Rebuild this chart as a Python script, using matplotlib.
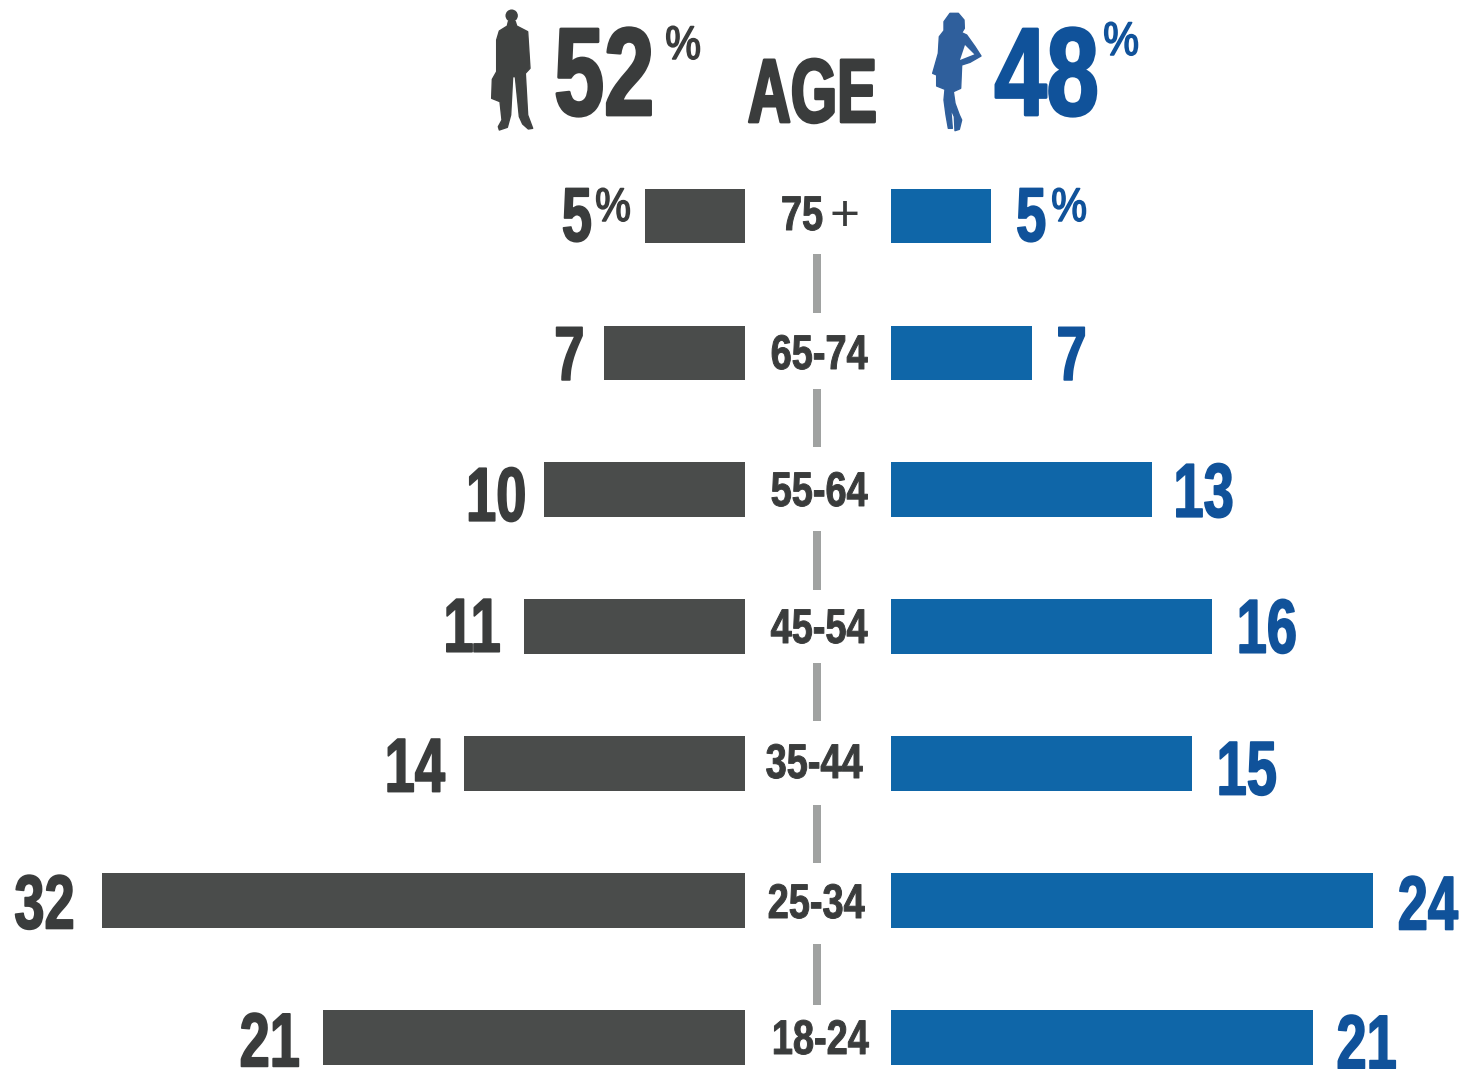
import matplotlib
matplotlib.use("Agg")
import matplotlib.pyplot as plt
import matplotlib.patheffects as pe
from matplotlib.patches import Circle, Polygon, Rectangle
from matplotlib.transforms import Affine2D

ages = ["75+", "65-74", "55-64", "45-54", "35-44", "25-34", "18-24"]
men = [5, 7, 10, 11, 14, 32, 21]
women = [5, 7, 13, 16, 15, 24, 21]
men_total = 52
women_total = 48

GRAY = "#4a4c4b"
BLUE = "#0f66a8"
DARK = "#3a3c3c"
NAVY = "#10529a"
W, H = 1464, 1069
PX_PER_UNIT = 20.08
ROW = 136.9
FONT = ["Liberation Sans", "DejaVu Sans"]


class Squeeze(pe.AbstractPathEffect):
    """Narrow a text horizontally and thicken it, no condensed font is installed."""

    def __init__(self, sx, lw, color, anchor="left"):
        super().__init__()
        self.sx, self.lw, self.color, self.anchor = sx, lw, color, anchor

    def draw_path(self, renderer, gc, tpath, affine, rgbFace=None):
        box = affine.transform_path(tpath).get_extents()
        x0 = {"left": box.x0, "right": box.x1, "center": (box.x0 + box.x1) / 2}[self.anchor]
        squeezed = affine + Affine2D().translate(-x0, 0).scale(self.sx, 1).translate(x0, 0)
        gc0 = renderer.new_gc()
        gc0.copy_properties(gc)
        gc0.set_linewidth(self.lw)
        gc0.set_foreground(self.color)
        renderer.draw_path(gc0, tpath, squeezed, rgbFace)
        gc0.restore()


def heavy(sx, lw, color, anchor="left"):
    return [Squeeze(sx, lw, color, anchor)]


fig = plt.figure(figsize=(W / 100, H / 100), dpi=100, facecolor="white")
ax_l = fig.add_axes([0, 0, 745 / W, 1])
ax_r = fig.add_axes([891 / W, 0, (W - 891) / W, 1])
overlay = fig.add_axes([0, 0, 1, 1])

ax_l.set_xlim(745 / PX_PER_UNIT, 0)
ax_r.set_xlim(0, (W - 891) / PX_PER_UNIT)
for ax in (ax_l, ax_r):
    ax.set_ylim((H - 216) / ROW, -216 / ROW)
    ax.axis("off")
overlay.set_xlim(0, W)
overlay.set_ylim(H, 0)
overlay.axis("off")
overlay.patch.set_alpha(0)

rows = list(range(len(ages)))
ax_l.barh(rows, men, height=0.4, color=GRAY)
ax_r.barh(rows, women, height=0.4, color=BLUE)

# hand placed, the labels in the picture are not quite regular
men_gap = [52, 19, 17, 23, 19, 27, 23]
men_drop = [25, 27, 31, 25, 28, 28, 29]
women_gap = [24, 24, 20, 23, 23, 24, 23]
women_drop = [25, 27, 27, 26, 31, 29, 31]

for i in rows:
    ax_l.annotate(str(men[i]), (men[i], i), xytext=(-men_gap[i], -men_drop[i]), textcoords="offset pixels",
                  ha="right", va="baseline", fontsize=55, fontweight="bold", family=FONT, color=DARK,
                  path_effects=heavy(0.71, 1.2, DARK, "right"))
    ax_r.annotate(str(women[i]), (women[i], i), xytext=(women_gap[i], -women_drop[i]), textcoords="offset pixels",
                  ha="left", va="baseline", fontsize=55, fontweight="bold", family=FONT, color=NAVY,
                  path_effects=heavy(0.71, 1.2, NAVY, "left"))

overlay.text(631, 221, "%", ha="right", va="baseline", fontsize=34, family=FONT, color=DARK,
             path_effects=heavy(0.85, 1.1, DARK, "right"))
overlay.text(1051, 221, "%", ha="left", va="baseline", fontsize=34, family=FONT, color=NAVY,
             path_effects=heavy(0.85, 1.1, NAVY, "left"))

# age labels in the middle column
age_x = [802, 819, 819, 819, 814, 816, 820]
age_y = [230, 369, 506, 643, 778, 918, 1054]
for i in rows:
    if ages[i].endswith("+"):
        overlay.text(802, age_y[i], ages[i][:-1], ha="center", va="baseline", fontsize=35, fontweight="bold",
                     family=FONT, color=DARK, path_effects=heavy(0.78, 0.7, DARK, "center"))
        overlay.text(844, age_y[i] + 1, "+", ha="center", va="baseline", fontsize=37, family=FONT, color=DARK)
    else:
        overlay.text(age_x[i], age_y[i], ages[i], ha="center", va="baseline", fontsize=35, fontweight="bold",
                     family=FONT, color=DARK, path_effects=heavy(0.78, 0.7, DARK, "center"))

# gray separators between the age labels
for y0, y1 in [(254, 313), (389, 447), (531, 590), (663, 721), (805, 863), (944, 1005)]:
    overlay.add_patch(Rectangle((813, y0), 8, y1 - y0, color="#a0a2a1", lw=0))

# header
overlay.text(553, 115, str(men_total), ha="left", va="baseline", fontsize=90, fontweight="bold", family=FONT,
             color=DARK, path_effects=heavy(0.72, 2, DARK, "left"))
overlay.text(665, 59, "%", ha="left", va="baseline", fontsize=34, family=FONT, color=DARK,
             path_effects=heavy(0.85, 1.1, DARK, "left"))
overlay.text(747, 122, "AGE", ha="left", va="baseline", fontsize=65, fontweight="bold", family=FONT,
             color=DARK, path_effects=heavy(0.66, 2, DARK, "left"))
overlay.text(994, 115, str(women_total), ha="left", va="baseline", fontsize=90, fontweight="bold", family=FONT,
             color=NAVY, path_effects=heavy(0.75, 2, NAVY, "left"))
overlay.text(1103, 55, "%", ha="left", va="baseline", fontsize=34, family=FONT, color=NAVY,
             path_effects=heavy(0.85, 1.1, NAVY, "left"))

man = [(85, 65), (82, 78), (58, 93), (50, 120), (50, 215), (37, 238), (35, 295), (60, 305), (66, 360), (55, 380),
       (58, 390), (82, 382), (92, 345), (98, 230), (106, 230), (118, 350), (128, 372), (145, 387), (158, 385), (143, 345),
       (136, 220), (150, 205), (143, 95), (110, 78), (106, 65)]
woman = [(90, 40), (115, 40), (132, 60), (133, 85), (125, 98), (140, 105), (165, 140), (183, 168), (150, 187),
         (125, 195), (122, 265), (100, 275), (105, 310), (118, 345), (125, 360), (118, 388), (105, 392), (103, 350),
         (92, 325), (97, 385), (85, 385), (78, 345), (72, 300), (75, 268), (50, 258), (50, 225), (38, 220),
         (55, 160), (58, 110), (72, 92), (72, 65)]
arm_gap = [(135, 135), (163, 163), (120, 180)]


def crop_pts(pts, x0):
    return [(x0 + x / 3, y / 3) for x, y in pts]


overlay.add_patch(Polygon(crop_pts(man, 480), closed=True, color="#404241", lw=1, joinstyle="round"))
overlay.add_patch(Circle((480 + 95 / 3, 47 / 3), 6.2, color="#404241", lw=0))
overlay.add_patch(Polygon(crop_pts(woman, 920), closed=True, color="#2f5f9c", lw=1, joinstyle="round"))
overlay.add_patch(Polygon(crop_pts(arm_gap, 920), closed=True, color="white", lw=0))

fig.savefig("out.png", dpi=100)
